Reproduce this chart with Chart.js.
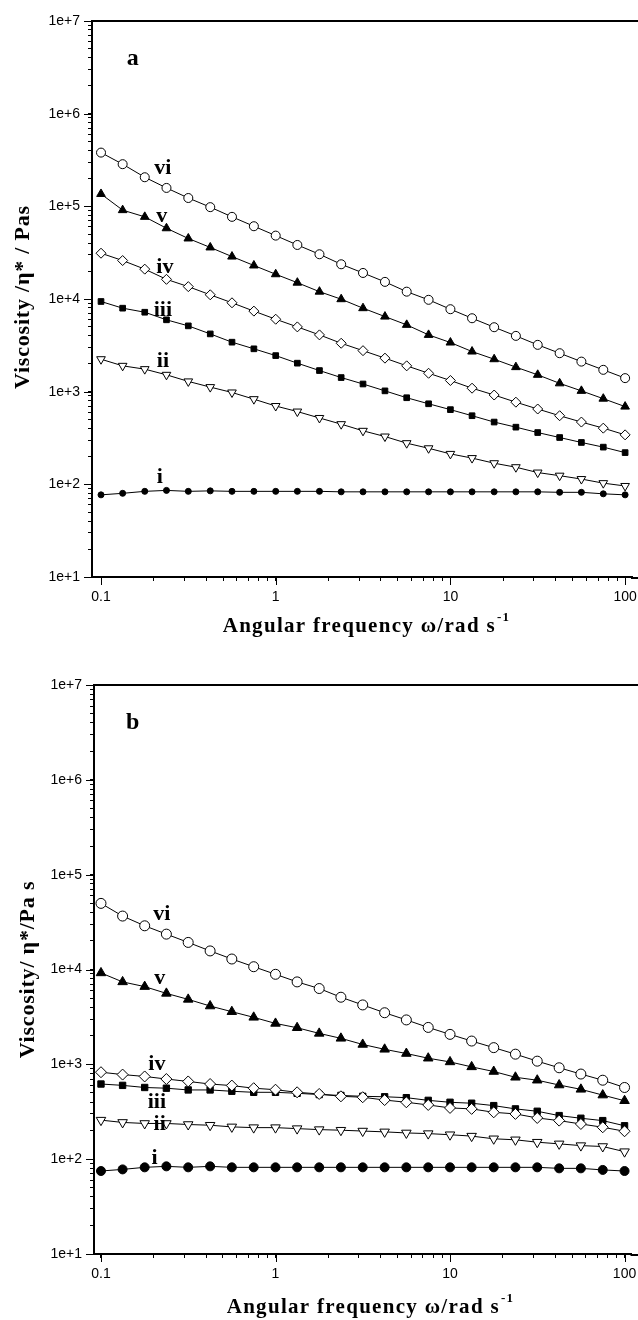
<!DOCTYPE html>
<html lang="en">
<head>
<meta charset="UTF-8" />
<title>Viscosity vs angular frequency</title>
<script src="https://cdn.jsdelivr.net/npm/chart.js"></script>
<style>
  html, body { margin: 0; padding: 0; background: #fff; overflow: hidden; }
  canvas { display: block; }
</style>
</head>
<body>
<canvas id="chartA" width="638" height="660"></canvas>
<canvas id="chartB" width="638" height="660"></canvas>
<script>
  // angular frequency, rad/s (same for every curve)
  const freq = [0.1, 0.133, 0.178, 0.237, 0.316, 0.422, 0.562, 0.75, 1, 1.33, 1.78, 2.37, 3.16,
                4.22, 5.62, 7.5, 10, 13.3, 17.8, 23.7, 31.6, 42.2, 56.2, 75, 100];

  // panel a - |eta*| / Pa s
  const viA  = [3.8e5, 2.85e5, 2.06e5, 1.58e5, 1.23e5, 9.8e4, 7.7e4, 6.1e4, 4.83e4, 3.83e4, 3.04e4, 2.37e4, 1.91e4,
                1.53e4, 1.2e4, 9.8e3, 7.76e3, 6.2e3, 4.96e3, 4.0e3, 3.2e3, 2.6e3, 2.11e3, 1.72e3, 1.4e3];
  const vA   = [1.36e5, 9.1e4, 7.7e4, 5.8e4, 4.5e4, 3.6e4, 2.87e4, 2.3e4, 1.85e4, 1.5e4, 1.2e4, 9.95e3, 7.96e3,
                6.46e3, 5.26e3, 4.1e3, 3.39e3, 2.71e3, 2.24e3, 1.84e3, 1.52e3, 1.23e3, 1.02e3, 840, 690];
  const ivA  = [3.12e4, 2.6e4, 2.1e4, 1.63e4, 1.36e4, 1.11e4, 9.1e3, 7.4e3, 6.05e3, 5.0e3, 4.1e3, 3.33e3, 2.77e3,
                2.3e3, 1.9e3, 1.58e3, 1.32e3, 1.09e3, 920, 770, 650, 550, 470, 404, 342];
  const iiiA = [9.4e3, 7.96e3, 7.2e3, 5.96e3, 5.13e3, 4.2e3, 3.42e3, 2.9e3, 2.45e3, 2.03e3, 1.69e3, 1.42e3, 1.21e3,
                1.02e3, 860, 740, 640, 550, 470, 414, 362, 320, 283, 252, 220];
  const iiA  = [2.24e3, 1.9e3, 1.75e3, 1.52e3, 1.29e3, 1.12e3, 980, 830, 700, 610, 520, 446, 378,
                328, 278, 245, 213, 192, 169, 153, 134, 124, 114, 103, 96];
  const iA   = [77, 80, 84, 86, 84, 85, 84, 84, 84, 84, 84, 83, 83, 83, 83, 83, 83, 83, 83, 83, 83, 82, 82, 79, 77];

  // panel b
  const viB  = [4.98e4, 3.66e4, 2.89e4, 2.36e4, 1.93e4, 1.57e4, 1.29e4, 1.07e4, 8.9e3, 7.4e3, 6.3e3, 5.1e3, 4.23e3,
                3.5e3, 2.94e3, 2.45e3, 2.07e3, 1.76e3, 1.5e3, 1.28e3, 1.08e3, 920, 790, 680, 570];
  const vB   = [9.2e3, 7.4e3, 6.6e3, 5.6e3, 4.84e3, 4.12e3, 3.59e3, 3.13e3, 2.7e3, 2.43e3, 2.12e3, 1.88e3, 1.62e3,
                1.44e3, 1.3e3, 1.16e3, 1.06e3, 940, 840, 730, 680, 605, 545, 474, 413];
  const ivB  = [826, 780, 745, 700, 660, 620, 597, 560, 540, 507, 487, 460, 450, 420, 398, 373, 347, 339, 312, 300,
                272, 255, 235, 217, 197];
  const iiiB = [620, 600, 570, 560, 537, 537, 520, 507, 507, 495, 480, 470, 460, 455, 445, 417, 398, 389, 367, 339,
                320, 288, 270, 255, 225];
  const iiB  = [258, 244, 238, 238, 232, 228, 219, 215, 215, 210, 205, 202, 198, 194, 189, 186, 181, 175, 164, 160,
                151, 145, 139, 136, 120];
  const iB   = [75, 78, 82, 84, 82, 84, 82, 82, 82, 82, 82, 82, 82, 82, 82, 82, 82, 82, 82, 82, 82, 80, 80, 77, 75];

  // curve labels (text, x, y in data units)
  const labelTextA = ['a', 'vi', 'v', 'iv', 'iii', 'ii', 'i'];
  const labelXA    = [0.152, 0.226, 0.223, 0.232, 0.226, 0.226, 0.217];
  const labelYA    = [3.9e6, 2.6e5, 7.9e4, 2.2e4, 7.6e3, 2.15e3, 120];
  const labelTextB = ['b', 'vi', 'v', 'iv', 'iii', 'ii', 'i'];
  const labelXB    = [0.152, 0.223, 0.217, 0.209, 0.209, 0.217, 0.203];
  const labelYB    = [4.0e6, 3.8e4, 8.1e3, 1.0e3, 400, 234, 102];

  // axis ticks
  const xMajors = [0.1, 1, 10, 100];
  const xMajorLabels = ['0.1', '1', '10', '100'];
  const yMajors = [1e1, 1e2, 1e3, 1e4, 1e5, 1e6, 1e7];
  const yMajorLabels = ['1e+1', '1e+2', '1e+3', '1e+4', '1e+5', '1e+6', '1e+7'];

  const SERIF = '"Liberation Serif", "Times New Roman", serif';
  const SANS = '"Liberation Sans", Arial, sans-serif';

  function minorTicks(majors) {
    const out = [];
    majors.forEach((m, i) => {
      out.push(m);
      if (i < majors.length - 1) for (let k = 2; k <= 9; k++) out.push(m * k);
    });
    return out;
  }

  function pairs(ys) { return ys.map((y, i) => ({ x: freq[i], y })); }

  function series(ys, style, fill, r, rot) {
    return {
      data: pairs(ys),
      borderColor: '#000', borderWidth: 1, tension: 0,
      pointStyle: style, pointRadius: r, pointRotation: rot || 0,
      pointBackgroundColor: fill ? '#000' : '#fff',
      pointBorderColor: '#000', pointBorderWidth: 1,
      clip: false
    };
  }

  const framePlugin = {
    id: 'frame',
    afterDraw(chart, args, o) {
      const ctx = chart.ctx, a = chart.chartArea;
      const xs = chart.scales.x, ys = chart.scales.y;
      ctx.save();
      ctx.strokeStyle = '#000';
      // top frame line, and bottom axis carried on to the page edge
      ctx.lineWidth = 2;
      ctx.beginPath(); ctx.moveTo(a.left - 1, a.top); ctx.lineTo(chart.width, a.top); ctx.stroke();
      ctx.beginPath(); ctx.moveTo(a.right - 1, a.bottom + 1); ctx.lineTo(chart.width, a.bottom + 1); ctx.stroke();
      // longer major ticks
      ctx.lineWidth = 1;
      xMajors.forEach(v => {
        const px = Math.round(xs.getPixelForValue(v)) + 0.5;
        ctx.beginPath(); ctx.moveTo(px, a.bottom); ctx.lineTo(px, a.bottom + 8); ctx.stroke();
      });
      yMajors.forEach(v => {
        const py = Math.round(ys.getPixelForValue(v)) + 0.5;
        ctx.beginPath(); ctx.moveTo(a.left - 8, py); ctx.lineTo(a.left, py); ctx.stroke();
      });
      ctx.fillStyle = '#000';
      // y title
      ctx.save();
      ctx.translate(o.yTitleX, (a.top + a.bottom) / 2 + o.yTitleShift);
      ctx.rotate(-Math.PI / 2);
      ctx.font = 'bold 22px ' + SERIF;
      ctx.letterSpacing = '0.8px';
      ctx.textAlign = 'center'; ctx.textBaseline = 'middle';
      ctx.fillText(o.yTitle, 0, 0);
      ctx.restore();
      // x title with superscript
      ctx.font = 'bold 21px ' + SERIF;
      ctx.letterSpacing = '1.3px';
      const main = 'Angular frequency \u03c9/rad s';
      const wMain = ctx.measureText(main).width;
      ctx.font = 'bold 13px ' + SERIF;
      const wSup = ctx.measureText('-1').width;
      const x0 = o.xTitleX - (wMain + wSup) / 2;
      ctx.textAlign = 'left'; ctx.textBaseline = 'middle';
      ctx.font = 'bold 21px ' + SERIF;
      ctx.fillText(main, x0, o.xTitleY);
      ctx.font = 'bold 13px ' + SERIF;
      ctx.fillText('-1', x0 + wMain + 1, o.xTitleY - 9);
      // curve labels
      ctx.letterSpacing = '0px';
      ctx.textAlign = 'center'; ctx.textBaseline = 'middle';
      o.texts.forEach((t, i) => {
        ctx.font = 'bold ' + (i === 0 ? 24 : 22) + 'px ' + SERIF;
        ctx.fillText(t, xs.getPixelForValue(o.xs[i]), ys.getPixelForValue(o.ys[i]));
      });
      ctx.restore();
    }
  };

  function makeChart(id, sets, cfg) {
    const xTicks = minorTicks(xMajors);
    const yTicks = minorTicks(yMajors);
    return new Chart(document.getElementById(id), {
      type: 'line',
      data: { datasets: sets },
      plugins: [framePlugin],
      options: {
        responsive: false,
        animation: false,
        events: [],
        layout: { padding: { top: cfg.top, right: 0, left: 0, bottom: 0 } },
        plugins: {
          legend: { display: false }, tooltip: { enabled: false },
          frame: cfg.frame
        },
        scales: {
          x: {
            type: 'logarithmic', min: cfg.xMin, max: cfg.xMax,
            afterBuildTicks: s => { s.ticks = xTicks.map(v => ({ value: v })); },
            afterFit: s => { s.height = cfg.xAxisHeight; s.paddingLeft = 0; s.paddingRight = 0; },
            ticks: {
              autoSkip: false, maxRotation: 0, padding: 8, color: '#000',
              font: { family: SANS, size: 14 },
              callback: (v, i) => {
                const k = xMajors.findIndex(m => Math.abs(m - xTicks[i]) < 1e-9);
                return k >= 0 ? xMajorLabels[k] : '';
              }
            },
            grid: { drawOnChartArea: false, drawTicks: true, tickLength: 4, color: '#000' },
            border: { display: true, color: '#000', width: 2 }
          },
          y: {
            type: 'logarithmic', min: 10, max: 1e7,
            afterBuildTicks: s => { s.ticks = yTicks.map(v => ({ value: v })); },
            afterFit: s => { s.width = cfg.yAxisWidth; },
            ticks: {
              autoSkip: false, padding: 8, color: '#000',
              font: { family: SANS, size: 14 },
              callback: (v, i) => {
                const k = yMajors.findIndex(m => Math.abs(m - yTicks[i]) < 1e-6 * m);
                return k >= 0 ? yMajorLabels[k] : '';
              }
            },
            grid: { drawOnChartArea: false, drawTicks: true, tickLength: 4, color: '#000' },
            border: { display: true, color: '#000', width: 2 }
          }
        }
      }
    });
  }

  makeChart('chartA', [
    series(viA, 'circle', false, 4.5),
    series(vA, 'triangle', true, 5),
    series(ivA, 'rectRot', false, 5),
    series(iiiA, 'rect', true, 4),
    series(iiA, 'triangle', false, 5, 180),
    series(iA, 'circle', true, 3)
  ], {
    top: 21, xMin: 0.0888, xMax: 109.5, xAxisHeight: 83, yAxisWidth: 92,
    frame: { yTitle: 'Viscosity /\u03b7* / Pas', yTitleX: 23, yTitleShift: -2, xTitleX: 366, xTitleY: 627,
             texts: labelTextA, xs: labelXA, ys: labelYA }
  });

  makeChart('chartB', [
    series(viB, 'circle', false, 5),
    series(vB, 'triangle', true, 5.5),
    series(ivB, 'rectRot', false, 5.5),
    series(iiiB, 'rect', true, 4.5),
    series(iiB, 'triangle', false, 5.5, 180),
    series(iB, 'circle', true, 4.5)
  ], {
    top: 25, xMin: 0.0912, xMax: 109.6, xAxisHeight: 66, yAxisWidth: 94,
    frame: { yTitle: 'Viscosity/ \u03b7*/Pa s', yTitleX: 28, yTitleShift: 0, xTitleX: 370, xTitleY: 648,
             texts: labelTextB, xs: labelXB, ys: labelYB }
  });
</script>
</body>
</html>
